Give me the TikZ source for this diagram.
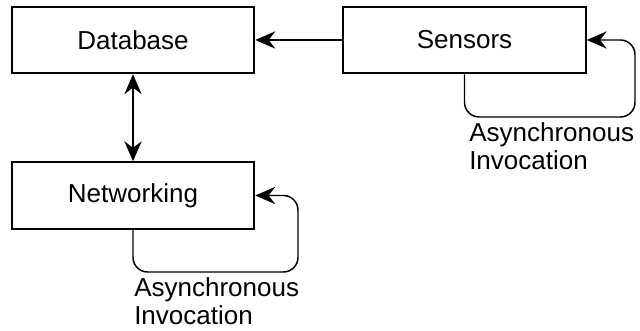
\documentclass[tikz,border=0pt]{standalone}
\usepackage{fontspec}
\setmainfont{Liberation Sans}
\usetikzlibrary{arrows.meta}

\begin{document}
\begin{tikzpicture}[x=0.75pt, y=-0.75pt,
    >={Stealth[length=15pt, width=13pt, inset=5pt]},
    block/.style={draw, rectangle, line width=1.4pt, minimum width=182pt, minimum height=50pt, font=\fontsize{19.5}{21}\selectfont},
    conn/.style={line width=1.1pt},
    note/.style={anchor=north west, align=left, inner sep=0pt, font=\fontsize{19.5}{21}\selectfont}]

\useasboundingbox (0,0) rectangle (640,331);

% the three blocks
\node[block] at (133, 40) (db) {Database};
\node[block] at (464.5, 40) (sens) {Sensors};
\node[block] at (133, 195.5) (net) {Networking};

% sensors to database, database and networking
\draw[conn, ->] (sens) -- (db);
\draw[conn, <->] (db) -- (net);

% asynchronous loops
\coordinate (sloop) at (635, 117);
\draw[conn, ->, rounded corners=11pt] (sens.south) |- (sloop) |- (sens.east);
\node[note] at (469, 122) (snote) {Asynchronous\\Invocation};

\coordinate (nloop) at (298, 272);
\draw[conn, ->, rounded corners=11pt] (net.south) |- (nloop) |- (net.east);
\node[note] at (134, 277) (nnote) {Asynchronous\\Invocation};

\end{tikzpicture}
\end{document}
